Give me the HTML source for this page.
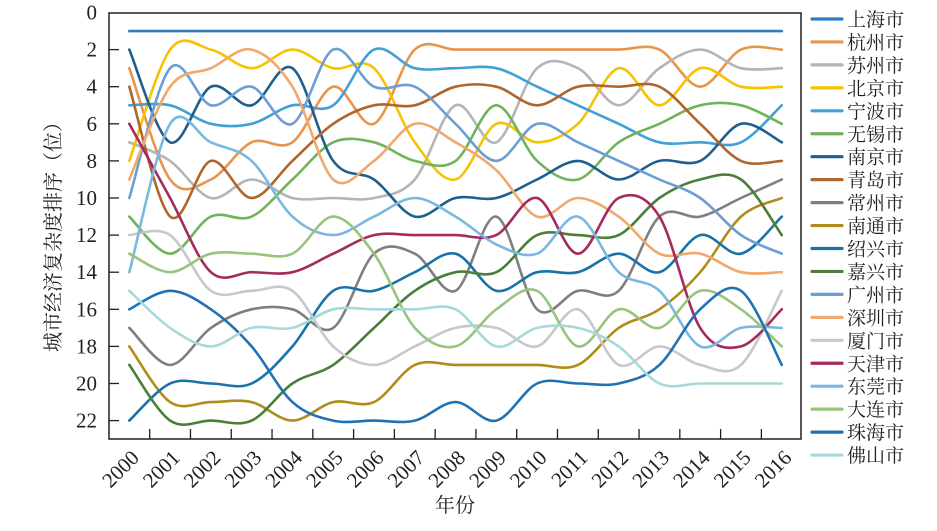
<!DOCTYPE html>
<html><head><meta charset="utf-8"><style>
html,body{margin:0;padding:0;background:#fff;}
svg{display:block;}
text{font-family:"Liberation Serif","Noto Serif CJK SC",serif;fill:#231f20;}
</style></head><body>
<svg id="c" width="937" height="531" viewBox="0 0 937 531" xmlns="http://www.w3.org/2000/svg">
<rect x="109" y="13" width="692" height="426" fill="none" stroke="#231f20" stroke-width="1.5"/>
<g id="ticks" stroke="#231f20" stroke-width="1.3"></g>
<g id="lines" fill="none" stroke-width="2.6" stroke-linecap="round"></g>
<g id="labels" font-size="21"></g>
<g id="legend" font-size="19"></g>
<text x="455" y="512" font-size="20" text-anchor="middle">年份</text>
<text transform="translate(60,232) rotate(-90)" font-size="20" text-anchor="middle">城市经济复杂度排序（位）</text>
</svg>
<script>
var NS="http://www.w3.org/2000/svg";
function el(t,a,p,txt){var e=document.createElementNS(NS,t);for(var k in a)e.setAttribute(k,a[k]);if(txt!=null)e.textContent=txt;p.appendChild(e);return e;}
var X0=129.3,DX=40.78,Y0=12.5,DY=18.55;
function X(i){return X0+i*DX;}function Y(v){return Y0+v*DY;}
var S=[
["上海市","#2e7ebf",[1,1,1,1,1,1,1,1,1,1,1,1,1,1,1,1,1]],
["杭州市","#e8954a",[3,9,9,7,7,4,6,2,2,2,2,2,2,2,4,2,2]],
["苏州市","#b4b4b9",[7,8,10,9,10,10,10,9,5,7,3,3,5,3,2,3,3]],
["北京市","#f6c300",[8,2,2,3,2,3,3,7,9,6,7,6,3,5,3,4,4]],
["宁波市","#41a0d8",[5,5,6,6,5,5,2,3,3,3,4,5,6,7,7,7,5]],
["无锡市","#72b35a",[11,13,11,11,9,7,7,8,8,5,8,9,7,6,5,5,6]],
["南京市","#1d5f8e",[2,7,4,5,3,8,9,11,10,10,9,8,9,8,8,6,7]],
["青岛市","#b0652a",[4,11,8,10,8,6,5,5,4,4,5,4,4,4,6,8,8]],
["常州市","#7f7f7f",[17,19,17,16,16,17,13,13,15,11,16,15,15,11,11,10,9]],
["南通市","#b08d1a",[18,21,21,21,22,21,21,19,19,19,19,19,17,16,14,11,10]],
["绍兴市","#1a73a8",[22,20,20,20,18,15,15,14,13,15,14,14,13,14,12,13,11]],
["嘉兴市","#4a7f3a",[19,22,22,22,20,19,17,15,14,14,12,12,12,10,9,9,12]],
["广州市","#6a9ed4",[10,3,5,4,6,2,4,4,6,8,6,7,8,9,10,12,13]],
["深圳市","#f0a86c",[9,4,3,2,4,9,8,6,7,8.5,11,10,11,13,13,14,14]],
["厦门市","#c8c8cc",[12,12,15,15,15,18,19,18,17,17,18,16,19,18,19,19,15]],
["天津市","#a52a5e",[6,10,14,14,14,13,12,12,12,12,10,13,10,11,17,18,16]],
["东莞市","#7ab8e0",[14,6,7,8,11,12,11,10,11,12.5,13,11,14,15,18,17,17]],
["大连市","#98c47c",[13,14,13,13,13,11,13,17,18,16,15,18,16,17,15,16,18]],
["珠海市","#2171b5",[16,15,16,18,21,22,22,22,21,22,20,20,20,19,16,15,19]],
["佛山市","#a8d8d8",[15,17,18,17,17,16,16,16,16,18,17,17,18,20,20,20,20]]
];
var g=document.getElementById("lines"),lg=document.getElementById("legend");
S.forEach(function(s,k){
 var v=s[2],p=v.map(function(y,i){return [X(i),Y(y)];}),d="M"+p[0][0].toFixed(1)+","+p[0][1].toFixed(1);
 for(var i=0;i<p.length-1;i++){
  var a=p[i-1]||p[i],b=p[i],c=p[i+1],e=p[i+2]||p[i+1];
  var c1=[b[0]+(c[0]-a[0])/6,b[1]+(c[1]-a[1])/6],c2=[c[0]-(e[0]-b[0])/6,c[1]-(e[1]-b[1])/6];
  d+="C"+c1[0].toFixed(1)+","+c1[1].toFixed(1)+" "+c2[0].toFixed(1)+","+c2[1].toFixed(1)+" "+c[0].toFixed(1)+","+c[1].toFixed(1);
 }
 el("path",{d:d,stroke:s[1]},g);
 var ly=19+k*22.95;
 el("line",{x1:812,y1:ly,x2:842,y2:ly,stroke:s[1],"stroke-width":3.2,"stroke-linecap":"round"},lg);
 el("text",{x:847,y:ly+7},lg,s[0]);
});
var t=document.getElementById("ticks"),lb=document.getElementById("labels");
for(var v=0;v<=22;v+=2){
 var y=Y(v);
 if(v>0)el("line",{x1:109,y1:y,x2:119,y2:y},t);
 el("text",{x:97,y:y+7,"text-anchor":"end"},lb,String(v));
}
for(var i=0;i<16;i++){var x=X(i)+DX/2;el("line",{x1:x,y1:439,x2:x,y2:429},t);}
for(var i=0;i<17;i++){var x=X(i)+11,y=459;
 el("text",{transform:"translate("+x+","+y+") rotate(-45)","text-anchor":"end"},lb,String(2000+i));}
</script>
</body></html>
